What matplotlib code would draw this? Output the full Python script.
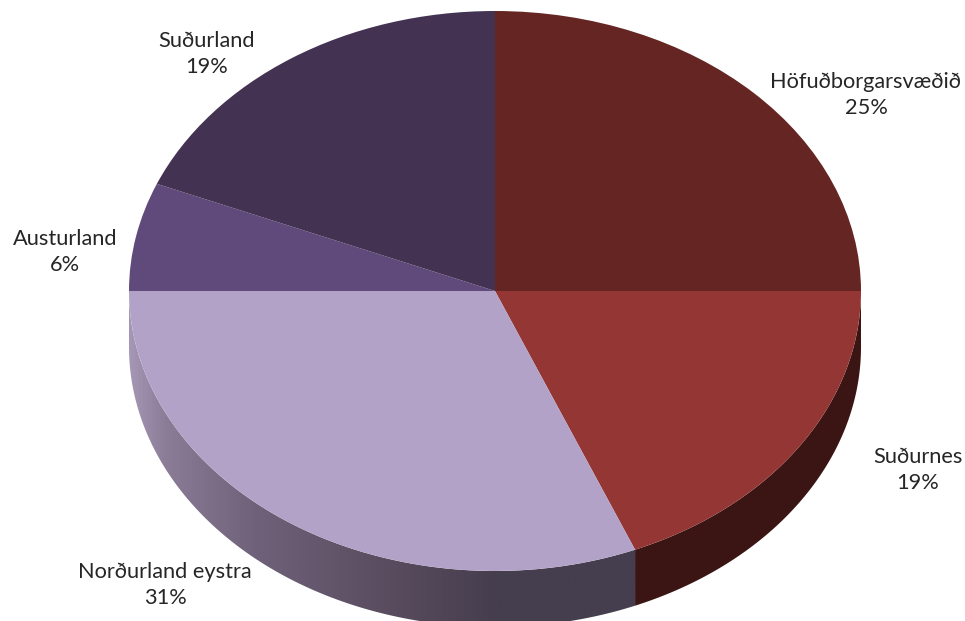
import numpy as np
import matplotlib
matplotlib.use("Agg")
import matplotlib.pyplot as plt
from matplotlib.colors import LinearSegmentedColormap
from matplotlib.patches import Polygon

# clockwise from 12 o'clock, counts out of 16 give the rounded percentages
regions = ["Höfuðborgarsvæðið", "Suðurnes", "Norðurland eystra", "Austurland", "Suðurland"]
counts = [4, 3, 5, 1, 3]
top_colors = ["#652523", "#933634", "#b3a2c7", "#604a7b", "#433252"]
side_colors = ["#3b1513", "#3b1513", None, "#3f304f", "#2c2138"]
gradient_colors = [(0.0, "#a596b5"), (0.07, "#8b7c97"), (0.25, "#6f6179"),
                   (0.5, "#5a4d60"), (0.72, "#463e4e"), (1.0, "#453e4e")]
# label centres in pixels
label_pos = [(866, 95), (918, 470), (165, 585), (65, 252), (207, 54)]

W, H = 965, 621
cx, cy, rx, ry = 495, 291, 366, 280
depth = 56 / ry

fig = plt.figure(figsize=(W / 100, H / 100), dpi=100)
ax = fig.add_axes([0, 0, 1, 1])
xlim = ((0 - cx) / rx, (W - cx) / rx)
ylim = ((cy - H) / ry, cy / ry)

# rim of the pie, only the front half shows
cum = np.cumsum([0] + counts) / sum(counts)
for i in range(len(counts)):
    a0 = 90 - 360 * cum[i]
    a1 = 90 - 360 * cum[i + 1]
    lo, hi = max(a1, -180), min(a0, 0)
    if hi <= lo:
        continue
    t = np.radians(np.linspace(hi, lo, 120))
    x, y = np.cos(t), np.sin(t)
    pts = np.r_[np.c_[x, y], np.c_[x, y - depth][::-1]]
    if side_colors[i] is None:
        cmap = LinearSegmentedColormap.from_list("rim", gradient_colors)
        im = ax.imshow(np.linspace(0, 1, 400)[None, :], cmap=cmap, aspect="auto",
                       extent=(x.min(), x.max(), -1 - depth, 0), zorder=1)
        clip = Polygon(pts, transform=ax.transData, fc="none", ec="none")
        ax.add_patch(clip)
        im.set_clip_path(clip)
    else:
        ax.fill(pts[:, 0], pts[:, 1], color=side_colors[i], lw=0, zorder=1)

wedges, _ = ax.pie(counts, colors=top_colors, startangle=90, counterclock=False,
                   radius=1, wedgeprops={"linewidth": 0, "zorder": 2})

ax.set_aspect("auto")
ax.set_xlim(xlim)
ax.set_ylim(ylim)
ax.axis("off")

for name, n, (px, py) in zip(regions, counts, label_pos):
    pct = round(100 * n / sum(counts))
    fig.text(px / W, 1 - py / H, f"{name}\n{pct}%", ha="center", va="center",
             family="Lato", fontsize=15.7, color="#262626", linespacing=1.37)

fig.savefig("out.png", dpi=100, facecolor="white")
